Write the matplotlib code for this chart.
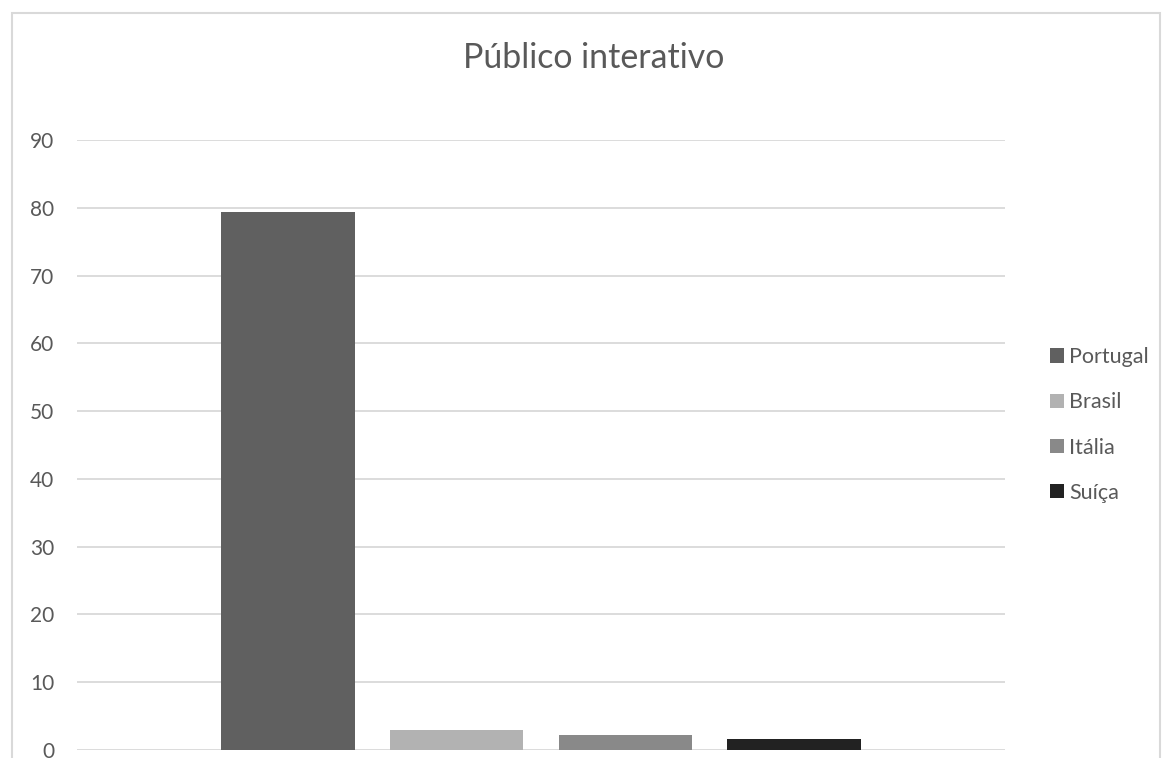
import numpy as np
import matplotlib
matplotlib.use('Agg')
import matplotlib.pyplot as plt
from matplotlib.patches import Rectangle

# Values per country
countries = ['Portugal', 'Brasil', 'Itália', 'Suíça']
values = [79.4, 3.0, 2.2, 1.6]
colors = ['#606060', '#b2b2b2', '#898989', '#222222']
yticks = [0, 10, 20, 30, 40, 50, 60, 70, 80, 90]

plt.rcParams['font.family'] = ['Lato', 'DejaVu Sans']
text_color = '#595959'

W, H = 1169, 758
fig = plt.figure(figsize=(W / 100, H / 100), dpi=100)
fig.patch.set_facecolor('white')

# chart border
fig.add_artist(Rectangle((12 / W, -0.05), (1160 - 12) / W, 1.05 - 13 / H,
                         transform=fig.transFigure, fill=False,
                         edgecolor='#d9d9d9', linewidth=1.5))

ax = fig.add_axes([77 / W, 8 / H, (1005 - 77) / W, (750 - 140) / H])

x = np.arange(len(countries)) - (len(countries) - 1) / 2
for xi, v, c, name in zip(x, values, colors, countries):
    ax.bar(xi, v, width=0.79, color=c, label=name, zorder=3)

ax.set_xlim(-2.75, 2.75)
ax.set_ylim(0, 90)
ax.set_yticks(yticks)
ax.set_xticks([])
ax.yaxis.grid(True, color='#d9d9d9', linewidth=1.3)
for s in ax.spines.values():
    s.set_visible(False)
ax.tick_params(axis='y', length=0, pad=16.5, labelsize=15, labelcolor=text_color)
ax.set_facecolor('white')

fig.text(594 / W, 1 - 68 / H, 'Público interativo', ha='center', va='baseline',
         fontsize=24.4, color=text_color)

leg = fig.legend(loc='center left', bbox_to_anchor=(1050 / W, 1 - 425 / H),
                 frameon=False, fontsize=15.5, handlelength=0.65, handleheight=0.65,
                 handletextpad=0.25, labelspacing=1.17, borderpad=0,
                 borderaxespad=0, labelcolor=text_color)

fig.savefig('out.png', dpi=100, facecolor='white')
